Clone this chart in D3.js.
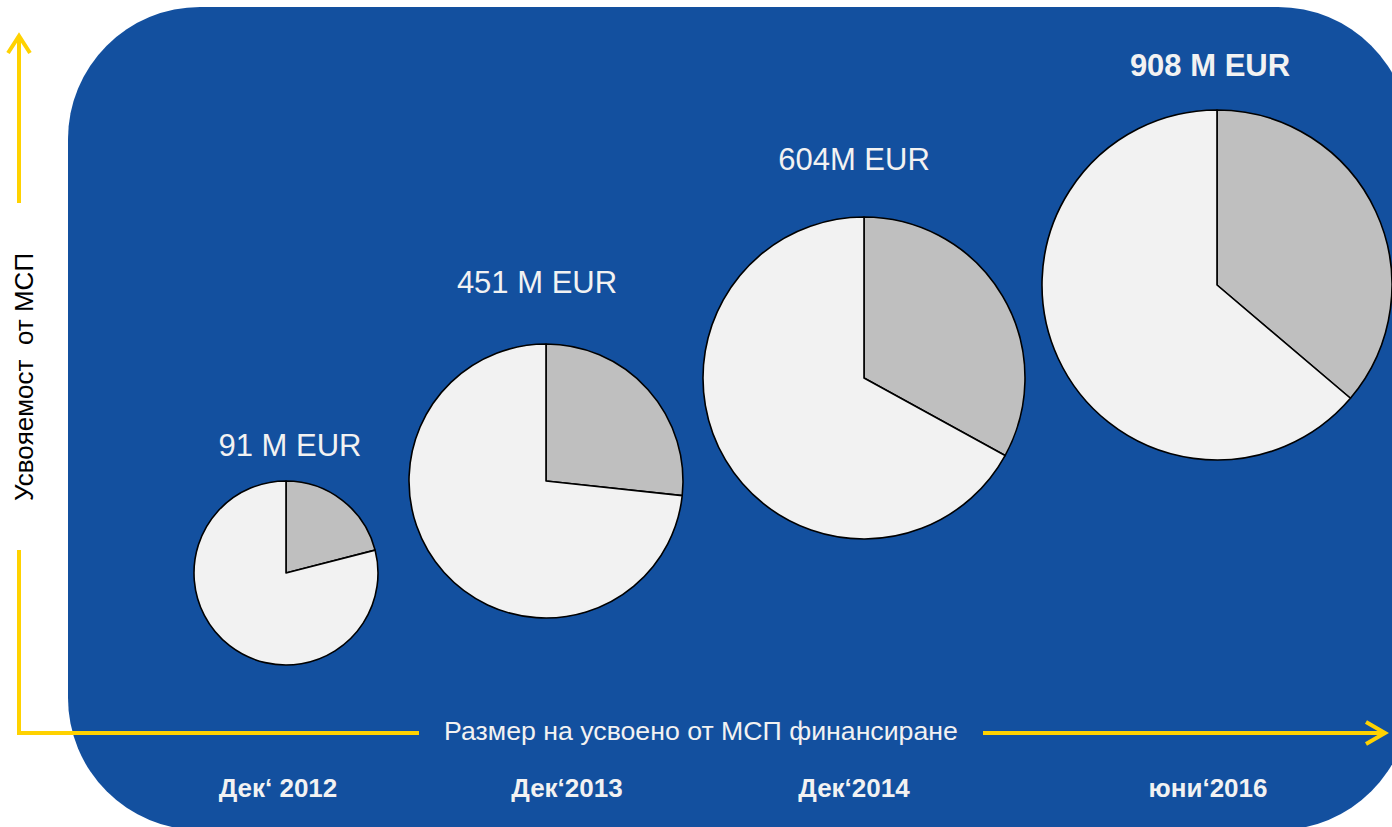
<!DOCTYPE html>
<html>
<head>
<meta charset="utf-8">
<script src="https://cdn.jsdelivr.net/npm/d3@7"></script>
<style>
  html, body { margin: 0; padding: 0; background: #ffffff; }
  svg { display: block; }
  text { font-family: "Liberation Sans", Arial, sans-serif; }
</style>
</head>
<body>
<svg id="chart" width="1392" height="827"></svg>
<script>
// ---- data ----
const categories = ["Дек‘ 2012", "Дек‘2013", "Дек‘2014", "юни‘2016"];
const totals = [91, 451, 604, 908];                 // M EUR
const valueLabels = ["91 M EUR", "451 M EUR", "604M EUR", "908 M EUR"];
const greyShare = [0.21, 0.267, 0.33, 0.362];       // darker slice share
const yAxisTitle = "Усвояемост  от МСП";
const xAxisTitle = "Размер на усвоено от МСП финансиране";

// ---- layout (not data) ----
const pieCx = [286, 546, 864, 1217];
const pieCy = [573, 481, 378, 285];
const pieR  = [92, 137, 161, 175];
const labelY = [456, 293, 170, 76];
const labelX = [290, 537, 854, 1210];
const catX   = [278, 567, 854, 1208];

const colors = {
  bg: "#13509F",
  yellow: "#FFD200",
  light: "#F2F2F2",
  grey: "#BFBFBF",
  text: "#F2F2F2"
};

const svg = d3.select("#chart");

// Scales
const xScale = d3.scaleOrdinal(categories, pieCx);
const yScale = d3.scaleOrdinal(categories, pieCy);
const rScale = d3.scaleLinear().domain(totals).range(pieR);
const labelXScale = d3.scaleOrdinal(categories, labelX);
const labelYScale = d3.scaleOrdinal(categories, labelY);
const catXScale = d3.scaleOrdinal(categories, catX);

// Background rounded panel
svg.append("rect")
  .attr("x", 68).attr("y", 7)
  .attr("width", 1342).attr("height", 823)
  .attr("rx", 132).attr("ry", 132)
  .attr("fill", colors.bg);

// Pies
const pie = d3.pie().sort(null).value(d => d.v);
const rows = categories.map((c, i) => ({
  cat: c, total: totals[i], label: valueLabels[i],
  parts: [{k: "grey", v: greyShare[i]}, {k: "light", v: 1 - greyShare[i]}]
}));

const g = svg.selectAll("g.pie").data(rows).join("g")
  .attr("class", "pie")
  .attr("transform", d => `translate(${xScale(d.cat)},${yScale(d.cat)})`);

g.selectAll("path").data(d => pie(d.parts).map(a => ({...a, r: rScale(d.total)})))
  .join("path")
  .attr("d", a => d3.arc().innerRadius(0).outerRadius(a.r)(a))
  .attr("fill", a => a.data.k === "grey" ? colors.grey : colors.light)
  .attr("stroke", "#000")
  .attr("stroke-width", 1.6)
  .attr("stroke-linejoin", "round");

// Value labels
svg.selectAll("text.val").data(rows).join("text")
  .attr("class", "val")
  .attr("x", d => labelXScale(d.cat))
  .attr("y", d => labelYScale(d.cat))
  .attr("text-anchor", "middle")
  .attr("font-size", 31)
  .attr("font-weight", (d, i) => i === rows.length - 1 ? "bold" : "normal")
  .attr("fill", colors.text)
  .text(d => d.label);

// Category labels
svg.selectAll("text.cat").data(categories).join("text")
  .attr("class", "cat")
  .attr("x", d => catXScale(d))
  .attr("y", 797)
  .attr("text-anchor", "middle")
  .attr("font-size", 26)
  .attr("font-weight", "bold")
  .attr("fill", colors.text)
  .text(d => d);

// Yellow axes
const ax = svg.append("g")
  .attr("stroke", colors.yellow)
  .attr("stroke-width", 4)
  .attr("fill", "none")
  .attr("stroke-linecap", "butt");

ax.append("line").attr("x1", 19).attr("y1", 37).attr("x2", 19).attr("y2", 203);
ax.append("polyline").attr("points", "8,53 19,36 30,53").attr("stroke-linejoin", "miter");
ax.append("polyline").attr("points", "19,550 19,733 419,733");
ax.append("line").attr("x1", 983).attr("y1", 733).attr("x2", 1384).attr("y2", 733);
ax.append("polyline").attr("points", "1366,722 1385,733 1366,744");

// Axis titles
svg.append("text")
  .attr("transform", "translate(33,377) rotate(-90)")
  .attr("text-anchor", "middle")
  .attr("font-size", 26)
  .attr("fill", "#000")
  .style("white-space", "pre")
  .attr("xml:space", "preserve")
  .text(yAxisTitle);

svg.append("text")
  .attr("x", 701).attr("y", 740)
  .attr("text-anchor", "middle")
  .attr("font-size", 26.7)
  .attr("fill", colors.text)
  .text(xAxisTitle);
</script>
</body>
</html>
